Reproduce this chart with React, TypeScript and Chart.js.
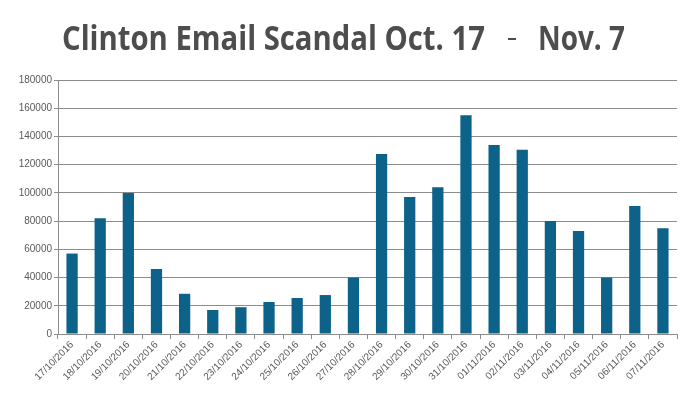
import React, { useEffect, useRef } from "react";
import { Chart, registerables } from "chart.js";

Chart.register(...registerables);

const dates = [
  "17/10/2016", "18/10/2016", "19/10/2016", "20/10/2016", "21/10/2016", "22/10/2016",
  "23/10/2016", "24/10/2016", "25/10/2016", "26/10/2016", "27/10/2016", "28/10/2016",
  "29/10/2016", "30/10/2016", "31/10/2016", "01/11/2016", "02/11/2016", "03/11/2016",
  "04/11/2016", "05/11/2016", "06/11/2016", "07/11/2016",
];
const mentions = [
  57000, 82000, 100000, 46000, 28500, 17000, 19000, 22700, 25500, 27600, 40000, 127600,
  97000, 104000, 155000, 134000, 130500, 80000, 73000, 40000, 90700, 75000,
];
const yMax = 180000;
const yStep = 20000;
const titleParts = ["Clinton Email Scandal Oct. 17", "-", "Nov. 7"];

const titlePlugin = {
  id: "condensedTitle",
  afterDraw(chart: any) {
    const ctx = chart.ctx as CanvasRenderingContext2D;
    ctx.save();
    ctx.fillStyle = "#4d4d4d";
    ctx.textBaseline = "alphabetic";
    ctx.font = "bold 34px 'Open Sans', sans-serif";
    const baseline = 50;
    const spans: [number, number][] = [[62, 485], [508, 516], [538, 625]];
    titleParts.forEach((t, i) => {
      const [x0, x1] = spans[i];
      if (t === "-") {
        ctx.fillRect(x0, 38, x1 - x0, 2);
        return;
      }
      const w = ctx.measureText(t).width;
      ctx.save();
      ctx.translate(x0, baseline);
      ctx.scale((x1 - x0) / w, 1);
      ctx.fillText(t, 0, 0);
      ctx.restore();
    });
    ctx.restore();
  },
};

export default function App() {
  const ref = useRef<HTMLCanvasElement>(null);
  useEffect(() => {
    if (!ref.current) return;
    const chart = new Chart(ref.current, {
      type: "bar",
      data: {
        labels: dates,
        datasets: [
          {
            data: mentions,
            backgroundColor: "#0D6289",
            borderWidth: 0,
            categoryPercentage: 1,
            barPercentage: 0.4,
          },
        ],
      },
      options: {
        animation: false,
        responsive: false,
        maintainAspectRatio: false,
        layout: { padding: { left: 0, right: 14, top: 80, bottom: 0 } },
        plugins: {
          legend: { display: false },
          tooltip: { enabled: false },
          title: { display: false },
        },
        scales: {
          x: {
            afterFit: (s: any) => { s.height = 62; },
            grid: {
              display: true,
              drawOnChartArea: false,
              drawTicks: true,
              tickLength: 5,
              offset: true,
              color: "#8c8c8c",
            },
            border: { display: true, color: "#8c8c8c", width: 1 },
            ticks: {
              autoSkip: false,
              maxRotation: 45,
              minRotation: 45,
              color: "#595959",
              font: { family: "'Liberation Sans', Arial, sans-serif", size: 10 },
              padding: 0,
            },
          },
          y: {
            min: 0,
            max: yMax,
            afterFit: (s: any) => { s.width = 58; },
            grid: {
              color: "#8c8c8c",
              drawTicks: true,
              tickLength: 4,
            },
            border: { display: true, color: "#8c8c8c", width: 1 },
            ticks: {
              stepSize: yStep,
              color: "#595959",
              font: { family: "'Liberation Sans', Arial, sans-serif", size: 10 },
              padding: 2,
              callback: (v: any) => String(v),
            },
          },
        },
      },
      plugins: [titlePlugin],
    });
    return () => chart.destroy();
  }, []);
  return (
    <div style={{ position: "fixed", left: 0, top: 0, width: 691, height: 396, background: "#fff" }}>
      <canvas ref={ref} width={691} height={396} style={{ width: 691, height: 396 }} />
    </div>
  );
}
